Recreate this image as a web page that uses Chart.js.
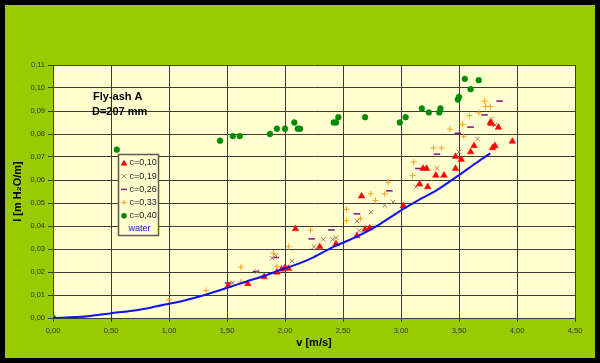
<!DOCTYPE html>
<html>
<head>
<meta charset="utf-8">
<script src="https://cdn.jsdelivr.net/npm/chart.js@4/dist/chart.umd.min.js"></script>
<style>
html,body{margin:0;padding:0;background:#000;}
#wrap{position:absolute;left:0;top:0;width:600px;height:363px;}
</style>
</head>
<body>
<div id="wrap"><canvas id="c" width="600" height="363"></canvas></div>
<script>
// ---- data: [v (m/s), I (m H2O/m)] ----
const seriesNames = ['c=0,10','c=0,19','c=0,26','c=0,33','c=0,40','water'];

const c010 = [[1.51,0.0140],[1.68,0.0149],[1.82,0.0179],[1.93,0.0199],[1.97,0.0212],[2.00,0.0219],[2.03,0.0215],
  [2.09,0.0388],[2.30,0.0310],[2.44,0.0322],[2.62,0.0357],[2.66,0.0530],[2.69,0.0385],[2.73,0.0391],
  [3.02,0.0487],[3.16,0.0582],[3.19,0.0650],[3.22,0.0650],[3.23,0.0570],[3.30,0.0620],[3.37,0.0620],
  [3.47,0.0702],[3.47,0.0650],[3.52,0.0689],[3.60,0.0722],[3.63,0.0749],[3.77,0.0850],[3.78,0.0845],
  [3.79,0.0740],[3.81,0.0749],[3.84,0.0829],[3.96,0.0768]];

const c019 = [[1.55,0.0152],[1.76,0.0202],[1.89,0.0260],[1.92,0.0271],[2.06,0.0248],[2.25,0.0310],
  [2.33,0.0342],[2.41,0.0342],[2.44,0.0349],[2.62,0.0422],[2.64,0.0380],[2.74,0.0460],[2.86,0.0489],
  [2.93,0.0504],[3.13,0.0570],[3.31,0.0650],[3.50,0.0722],[3.66,0.0778],[3.78,0.0865],[3.81,0.0839]];

const c026 = [[1.51,0.0152],[1.75,0.0202],[1.92,0.0263],[2.23,0.0344],[2.40,0.0383],[2.62,0.0453],
  [2.90,0.0553],[3.15,0.0650],[3.31,0.0712],[3.49,0.0803],[3.60,0.0830],[3.72,0.0883],[3.85,0.0943]];

const c033 = [[1.00,0.0079],[1.32,0.0120],[1.62,0.0157],[1.62,0.0221],[1.90,0.0282],[1.93,0.0224],
  [2.03,0.0310],[2.22,0.0383],[2.53,0.0423],[2.53,0.0472],[2.65,0.0432],[2.74,0.0540],[2.78,0.0511],
  [2.86,0.0540],[2.89,0.0590],[3.10,0.0620],[3.11,0.0679],[3.28,0.0740],[3.35,0.0740],[3.42,0.0821],
  [3.53,0.0842],[3.54,0.0790],[3.59,0.0880],[3.67,0.0892],[3.72,0.0943],[3.73,0.0920],[3.77,0.0920]];

const c040 = [[0.00,0.0000],[0.55,0.0732],[1.44,0.0771],[1.55,0.0791],[1.61,0.0791],[1.87,0.0800],
  [1.93,0.0823],[2.00,0.0823],[2.08,0.0850],[2.11,0.0823],[2.13,0.0823],[2.42,0.0850],[2.44,0.0850],
  [2.46,0.0873],[2.69,0.0873],[2.99,0.0850],[3.04,0.0873],[3.18,0.0911],[3.24,0.0894],[3.33,0.0894],
  [3.34,0.0911],[3.49,0.0950],[3.50,0.0961],[3.55,0.1040],[3.60,0.0995],[3.67,0.1034]];

const water = [[0.00,0.0000],[0.15,0.0003],[0.30,0.0008],[0.50,0.0021],[0.70,0.0033],[0.85,0.0046],
  [1.00,0.0062],[1.10,0.0072],[1.30,0.0099],[1.50,0.0131],[1.67,0.0159],[1.85,0.0188],[1.96,0.0209],
  [2.10,0.0233],[2.25,0.0265],[2.42,0.0310],[2.55,0.0338],[2.65,0.0361],[2.80,0.0403],[3.00,0.0468],
  [3.17,0.0518],[3.31,0.0556],[3.50,0.0621],[3.65,0.0675],[3.77,0.0716]];

const xTickLabels = ['0,00','0,50','1,00','1,50','2,00','2,50','3,00','3,50','4,00','4,50'];
const yTickLabels = ['0,00','0,01','0,02','0,03','0,04','0,05','0,06','0,07','0,08','0,09','0,10','0,11'];
const annotLines = ['Fly-ash A','D=207 mm'];

// ---- styles ----
const COL = {
  c010:'#FF0000', c019:'#B07A5A', c026:'#8B1A8B', c033:'#FFA21E', c040:'#008A00', water:'#1010F0'
};
const toPts = a => a.map(p => ({x:p[0], y:p[1]}));
const FONT = 'Liberation Sans, Arial, sans-serif';

const bgPlugin = {
  id:'bg',
  beforeDraw(chart){
    const ctx = chart.ctx, a = chart.chartArea;
    ctx.save();
    ctx.fillStyle = '#000'; ctx.fillRect(0,0,600,363);
    ctx.fillStyle = '#99CC00'; ctx.fillRect(5,5,590,353);
    ctx.fillStyle = '#FFFFD0'; ctx.fillRect(a.left,a.top,a.right-a.left,a.bottom-a.top);
    ctx.restore();
  }
};

function marker(ctx, style, x, y){
  ctx.save();
  if(style==='tri'){
    ctx.fillStyle = COL.c010;
    ctx.beginPath(); ctx.moveTo(x,y-3.5); ctx.lineTo(x+3.3,y+2.5); ctx.lineTo(x-3.3,y+2.5); ctx.closePath(); ctx.fill();
  } else if(style==='x'){
    ctx.strokeStyle = COL.c019; ctx.lineWidth=1;
    ctx.beginPath(); ctx.moveTo(x-2,y-2); ctx.lineTo(x+2,y+2); ctx.moveTo(x+2,y-2); ctx.lineTo(x-2,y+2); ctx.stroke();
  } else if(style==='dash'){
    ctx.strokeStyle = COL.c026; ctx.lineWidth=1.5;
    ctx.beginPath(); ctx.moveTo(x-3,y); ctx.lineTo(x+3,y); ctx.stroke();
  } else if(style==='plus'){
    ctx.strokeStyle = COL.c033; ctx.lineWidth=1;
    ctx.beginPath(); ctx.moveTo(x-2.5,y); ctx.lineTo(x+2.5,y); ctx.moveTo(x,y-2.5); ctx.lineTo(x,y+2.5); ctx.stroke();
  } else if(style==='dot'){
    ctx.fillStyle = COL.c040;
    ctx.beginPath(); ctx.arc(x,y,2.8,0,Math.PI*2); ctx.fill();
  }
  ctx.restore();
}

const overlayPlugin = {
  id:'overlay',
  afterDraw(chart){
    const ctx = chart.ctx;
    ctx.save();
    // annotation text
    ctx.fillStyle = '#000';
    ctx.font = 'bold 11px ' + FONT;
    ctx.textBaseline = 'alphabetic'; ctx.textAlign = 'left';
    ctx.fillText(annotLines[0], 93, 100);
    ctx.fillText(annotLines[1], 92, 115);
    // legend box
    ctx.fillStyle = '#FFFFD0';
    ctx.fillRect(118.5,154.5,40,81);
    ctx.strokeStyle = '#5a5a5a'; ctx.lineWidth = 1.5;
    ctx.strokeRect(118.5,154.5,40,81);
    const styles = ['tri','x','dash','plus','dot'];
    ctx.font = '9px ' + FONT; ctx.textBaseline='middle';
    for(let i=0;i<6;i++){
      const y = 163 + i*13.2;
      if(i<5){
        marker(ctx, styles[i], 124, y);
        ctx.fillStyle = '#222'; ctx.textAlign='left';
        ctx.fillText(seriesNames[i], 129.5, y);
      } else {
        ctx.fillStyle = COL.water; ctx.textAlign='center';
        ctx.fillText(seriesNames[i], 139.5, y);
      }
    }
    ctx.restore();
  }
};

const gridCol = '#3c3c3c';

new Chart(document.getElementById('c'), {
  type:'scatter',
  data:{
    datasets:[
      {label:seriesNames[5], data:toPts(water), showLine:true, borderColor:COL.water, borderWidth:2,
        pointRadius:0, fill:false, tension:0.2},
      {label:seriesNames[0], data:toPts(c010), pointStyle:'triangle', pointRadius:3.8,
        backgroundColor:COL.c010, borderColor:COL.c010, pointBorderWidth:0.5},
      {label:seriesNames[1], data:toPts(c019), pointStyle:'crossRot', pointRadius:3.2,
        backgroundColor:COL.c019, borderColor:COL.c019, pointBorderWidth:1},
      {label:seriesNames[2], data:toPts(c026), pointStyle:'line', pointRadius:3.3,
        backgroundColor:COL.c026, borderColor:COL.c026, pointBorderWidth:1.6},
      {label:seriesNames[3], data:toPts(c033), pointStyle:'cross', pointRadius:3,
        backgroundColor:COL.c033, borderColor:COL.c033, pointBorderWidth:1},
      {label:seriesNames[4], data:toPts(c040), pointStyle:'circle', pointRadius:2.9,
        backgroundColor:COL.c040, borderColor:COL.c040, pointBorderWidth:0.5}
    ]
  },
  options:{
    responsive:false, animation:false, devicePixelRatio:1,
    layout:{padding:{left:0, top:65, right:25, bottom:0}},
    plugins:{legend:{display:false}, tooltip:{enabled:false}},
    scales:{
      x:{
        type:'linear', min:0, max:4.5,
        afterFit(s){ s.height = 45; },
        ticks:{stepSize:0.5, color:'#333', font:{family:FONT, size:7.5}, padding:4, maxRotation:0,
          callback:(v)=> xTickLabels[Math.round(v*2)]},
        grid:{color:gridCol, lineWidth:1, tickLength:4, tickColor:gridCol},
        border:{color:gridCol, width:1},
        title:{display:true, text:'v [m/s]', color:'#000', font:{family:FONT, size:11, weight:'bold'},
          padding:{top:0, bottom:13}}
      },
      y:{
        type:'linear', min:0, max:0.11,
        afterFit(s){ s.width = 53; },
        ticks:{stepSize:0.01, color:'#333', font:{family:FONT, size:7.5}, padding:3,
          callback:(v)=> yTickLabels[Math.round(v*100)]},
        grid:{color:gridCol, lineWidth:1, tickLength:5, tickColor:gridCol},
        border:{color:gridCol, width:1},
        title:{display:true, text:'I [m H₂O/m]', color:'#000', font:{family:FONT, size:11, weight:'bold'},
          padding:{top:11, bottom:0}}
      }
    }
  },
  plugins:[bgPlugin, overlayPlugin]
});
</script>
</body>
</html>
